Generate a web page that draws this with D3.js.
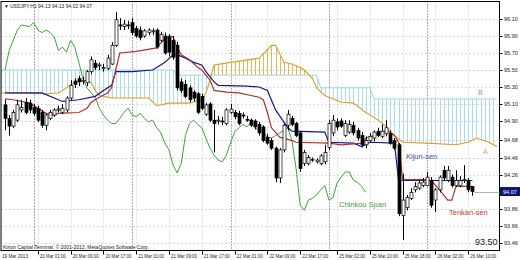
<!DOCTYPE html>
<html>
<head>
<meta charset="utf-8">
<script src="https://d3js.org/d3.v7.min.js"></script>
<style>
  body { margin: 0; background: #fff; }
  svg text { font-family: "Liberation Sans", Arial, sans-serif; }
</style>
</head>
<body>
<svg id="chart" width="520" height="260"></svg>
<script>
// USDJPY H1 bars, index 0 = 19 Mar 17:00
const opens = [95.09,94.93,94.84,94.91,95.03,95.12,95.11,95.06,95.05,95.00,94.85,94.93,94.97,95.03,95.00,95.03,95.17,95.37,95.40,95.37,
  95.35,95.48,95.58,95.55,95.52,95.52,95.57,95.79,96.03,96.01,96.03,96.06,95.99,95.97,95.90,95.94,95.95,95.97,95.85,95.90,
  95.89,95.85,95.79,95.36,95.33,95.29,95.24,95.22,95.19,94.98,95.10,94.91,94.90,94.90,94.87,95.00,95.00,94.99,94.97,94.92,
  94.91,94.90,94.86,94.83,94.71,94.67,94.58,94.23,94.56,94.85,94.93,94.87,94.76,94.40,94.40,94.44,94.42,94.40,94.42,94.59,
  94.76,94.89,94.90,94.73,94.77,94.85,94.79,94.73,94.62,94.67,94.70,94.78,94.72,94.75,94.75,94.67,94.62,93.79,93.88,93.99,
  94.09,94.11,94.14,94.14,94.20,93.97,94.09,94.32,94.20,94.24,94.14,94.14,94.20,94.20,94.13];
const highs = [95.15,94.97,95.03,95.15,95.15,95.17,95.15,95.10,95.08,95.03,94.99,95.03,95.05,95.08,95.10,95.19,95.38,95.40,95.43,95.42,
  95.50,95.66,95.62,95.59,95.57,95.68,95.83,96.18,96.11,96.09,96.08,96.11,96.02,96.01,95.98,95.99,95.99,95.99,95.95,95.94,
  95.92,95.90,95.83,95.40,95.38,95.32,95.26,95.24,95.22,95.11,95.12,95.03,94.96,94.95,95.05,95.10,95.03,95.02,95.00,94.96,
  94.93,94.92,94.89,94.85,94.75,94.70,94.60,94.58,94.87,95.03,94.96,94.89,94.78,94.56,94.50,94.47,94.46,94.51,94.62,94.91,
  94.97,94.93,94.93,94.91,94.91,94.89,94.82,94.77,94.72,94.76,94.79,94.82,94.86,94.91,94.79,94.70,94.64,94.28,94.03,94.11,
  94.18,94.20,94.23,94.30,94.24,94.11,94.26,94.37,94.37,94.27,94.32,94.25,94.38,94.23,94.13];
const lows = [94.79,94.73,94.82,94.89,95.00,94.98,94.99,94.96,94.89,94.82,94.79,94.91,94.95,95.00,94.98,95.00,95.15,95.29,95.31,95.33,
  95.31,95.45,95.50,95.50,95.48,95.50,95.56,95.77,95.97,95.97,95.98,95.91,95.88,95.85,95.88,95.91,95.91,95.75,95.83,95.68,
  95.66,95.62,95.26,95.23,95.17,95.12,95.13,94.98,95.03,94.96,94.89,94.53,94.86,94.85,94.85,94.98,94.92,94.85,94.93,94.89,
  94.83,94.80,94.73,94.65,94.62,94.56,94.18,94.17,94.53,94.79,94.84,94.71,94.30,94.37,94.38,94.42,94.40,94.38,94.39,94.56,
  94.72,94.79,94.82,94.71,94.75,94.73,94.67,94.59,94.58,94.65,94.66,94.71,94.70,94.72,94.62,94.56,93.78,93.50,93.85,93.97,
  94.06,94.09,94.12,94.13,93.88,93.83,94.06,94.20,94.18,94.12,94.12,94.12,94.17,94.06,94.02];
const closes = [94.93,94.84,95.00,95.09,95.06,95.00,95.03,94.99,94.91,94.85,94.97,95.00,95.03,95.04,95.05,95.17,95.32,95.33,95.36,95.38,
  95.48,95.62,95.53,95.56,95.53,95.64,95.79,96.09,96.02,96.04,96.03,95.94,95.90,95.88,95.96,95.97,95.96,95.77,95.92,95.70,
  95.71,95.65,95.29,95.26,95.19,95.15,95.17,95.00,95.05,95.09,94.91,94.87,94.91,94.89,95.03,95.04,94.95,94.87,94.96,94.91,
  94.85,94.83,94.76,94.67,94.64,94.58,94.23,94.56,94.85,94.98,94.86,94.73,94.34,94.53,94.47,94.45,94.44,94.49,94.53,94.87,
  94.91,94.83,94.84,94.87,94.86,94.76,94.70,94.62,94.67,94.72,94.77,94.73,94.78,94.82,94.64,94.58,93.81,93.97,94.00,94.06,
  94.13,94.17,94.18,94.24,93.91,94.09,94.24,94.23,94.32,94.14,94.20,94.20,94.21,94.09,94.07];

// Ichimoku lines as [bar index, price]
const tenkan = [[0,95.16],[2,95.15],[6,95.11],[10,94.99],[12,94.97],[13,94.99],[18,95.00],[20,95.05],[21,95.12],[23,95.18],
  [25,95.23],[26,95.29],[27,95.50],[28,95.70],[32,95.72],[37,95.76],[38,95.82],[40,95.90],[41,95.89],[42,95.76],[43,95.68],
  [45,95.62],[47,95.53],[48,95.50],[50,95.38],[51,95.26],[54,95.24],[57,95.23],[60,95.20],[62,95.18],[63,95.15],[64,95.00],
  [65,94.82],[67,94.71],[70,94.67],[71,94.65],[79,94.64],[82,94.62],[87,94.64],[88,94.70],[90,94.73],[93,94.79],[95,94.73],
  [96,94.65],[97,94.21],[102,94.21],[104,94.20],[106,94.09],[108,93.97],[109,93.97],[110,94.13],[114,94.13]];
const kijun = [[0,95.23],[9,95.23],[12,95.17],[14,95.13],[18,95.15],[22,95.19],[24,95.26],[26,95.32],[27,95.48],[31,95.48],
  [36,95.50],[37,95.53],[39,95.59],[41,95.68],[42,95.68],[44,95.64],[46,95.59],[48,95.56],[49,95.48],[51,95.36],[52,95.32],
  [59,95.31],[62,95.30],[64,95.26],[66,95.03],[69,94.82],[70,94.78],[78,94.77],[79,94.65],[85,94.64],[87,94.60],[89,94.65],
  [95,94.64],[96,94.20],[114,94.20]];
const chikou = [[0,95.50],[1,95.73],[3,95.97],[4,96.03],[6,96.01],[7,96.06],[8,95.97],[9,95.94],[10,95.97],[11,95.94],
  [12,95.89],[13,95.73],[14,95.77],[15,95.71],[16,95.85],[17,95.77],[18,95.59],[19,95.40],[20,95.29],[21,95.23],[22,95.18],
  [23,95.05],[24,94.97],[25,94.91],[26,94.87],[27,94.87],[28,94.93],[29,95.00],[30,95.05],[31,94.97],[32,94.95],[33,94.99],
  [34,94.93],[35,94.89],[36,94.91],[37,94.82],[38,94.76],[39,94.64],[40,94.56],[41,94.38],[42,94.29],[43,94.40],[44,94.73],
  [45,94.87],[46,94.91],[47,94.86],[48,94.82],[49,94.70],[50,94.58],[51,94.50],[52,94.44],[53,94.42],[54,94.50],[55,94.64],
  [56,94.77],[57,94.82],[58,94.86],[59,94.83],[60,94.89],[61,94.82],[62,94.79],[63,94.76],[64,94.71],[65,94.70],[66,94.73],
  [67,94.76],[68,94.79],[69,94.82],[70,94.67],[71,94.34],[72,93.91],[73,93.85],[74,93.97],[75,93.99],[76,94.03],[77,94.09],
  [78,94.14],[79,93.97],[80,94.00],[81,94.17],[82,94.24],[83,94.30],[84,94.30],[85,94.20],[86,94.18],[87,94.13],[88,94.06]];
const senkouA = [[-1,95.23],[10,95.22],[13,95.23],[15,95.29],[17,95.36],[20,95.38],[21,95.35],[22,95.26],[23,95.20],[26,95.17],
  [35,95.17],[37,95.08],[40,95.11],[45,95.11],[48,95.15],[49,95.23],[50,95.38],[51,95.56],[55,95.59],[62,95.64],[63,95.69],
  [65,95.79],[66,95.79],[68,95.59],[70,95.57],[72,95.53],[73,95.50],[75,95.40],[76,95.29],[78,95.20],[82,95.12],[85,95.11],
  [88,95.00],[91,94.91],[93,94.83],[95,94.73],[97,94.65],[103,94.64],[110,94.62],[113,94.65],[115,94.70],[118,94.65],[120,94.60]];
const senkouB = [[-1,95.50],[41,95.50],[42,95.44],[76,95.44],[77,95.29],[89,95.29],[90,95.16],[120,95.16]];

const priceTicks = [96.10, 95.90, 95.70, 95.50, 95.30, 95.10, 94.90, 94.68, 94.46, 94.26, 93.86, 93.66, 93.46];
const timeTicks = [[0, "19 Mar 2013"], [8, "20 Mar 01:00"], [16, "20 Mar 09:00"], [24, "20 Mar 17:00"], [32, "21 Mar 01:00"],
  [40, "21 Mar 09:00"], [48, "21 Mar 17:00"], [56, "22 Mar 01:00"], [64, "22 Mar 09:00"], [72, "22 Mar 17:00"],
  [81, "25 Mar 02:00"], [89, "25 Mar 10:00"], [97, "25 Mar 18:00"], [105, "26 Mar 02:00"], [113, "26 Mar 10:00"]];
const daySeparators = [7, 31, 55, 79, 103];
const lastPrice = 94.07;
const lowMark = 93.50;

const W = 520, H = 260;
const plot = { left: 1, right: 499.5, top: 1.5, bottom: 250.5 };
const svg = d3.select("#chart");

const x = d3.scaleLinear().domain([-0.5, 120.5]).range([3, 499]);
const y = d3.scaleLinear().domain([93.50, 96.10]).range([240, 19]);

svg.append("rect").attr("width", W).attr("height", H).attr("fill", "#fff");

const clipPlot = svg.append("defs").append("clipPath").attr("id", "plotArea").append("rect")
  .attr("x", plot.left).attr("y", plot.top).attr("width", plot.right - plot.left).attr("height", plot.bottom - plot.top);

// grid
const grid = svg.append("g").attr("stroke", "#c9c9c9").attr("stroke-width", 0.7).attr("stroke-dasharray", "2,2");
grid.selectAll(".hg").data(priceTicks).enter().append("line")
  .attr("x1", plot.left).attr("x2", plot.right)
  .attr("y1", d => Math.round(y(d)) + 0.5).attr("y2", d => Math.round(y(d)) + 0.5);
grid.selectAll(".vg").data(timeTicks.slice(1)).enter().append("line")
  .attr("x1", d => Math.round(x(d[0])) + 0.5).attr("x2", d => Math.round(x(d[0])) + 0.5)
  .attr("y1", plot.top).attr("y2", plot.bottom);

// day separators
svg.append("g").selectAll("line").data(daySeparators).enter().append("line")
  .attr("x1", d => Math.round(x(d)) + 0.5).attr("x2", d => Math.round(x(d)) + 0.5)
  .attr("y1", plot.top).attr("y2", plot.bottom)
  .attr("stroke", "#333").attr("stroke-width", 0.8).attr("stroke-dasharray", "1,2");

// cloud: hatching between Senkou A and B
const defs = svg.select("defs");
const areaBelow = pts => d3.area().x(d => x(d[0])).y0(plot.bottom).y1(d => y(d[1]))(pts);
const areaAbove = pts => d3.area().x(d => x(d[0])).y0(plot.top).y1(d => y(d[1]))(pts);
defs.append("clipPath").attr("id", "belowA").append("path").attr("d", areaBelow(senkouA));
defs.append("clipPath").attr("id", "aboveA").append("path").attr("d", areaAbove(senkouA));
defs.append("clipPath").attr("id", "belowB").append("path").attr("d", areaBelow(senkouB));
defs.append("clipPath").attr("id", "aboveB").append("path").attr("d", areaAbove(senkouB));

const cloudG = svg.append("g").attr("clip-path", "url(#plotArea)");
const hatch = (outer, inner, color) => {
  const g = cloudG.append("g").attr("clip-path", `url(#${outer})`)
    .append("g").attr("clip-path", `url(#${inner})`);
  g.selectAll("line").data(d3.range(-1, 121)).enter().append("line")
    .attr("x1", d => Math.round(x(d)) + 0.5).attr("x2", d => Math.round(x(d)) + 0.5)
    .attr("y1", plot.top).attr("y2", plot.bottom)
    .attr("stroke", color).attr("stroke-width", 1);
};
hatch("belowA", "aboveB", "#e9b654");
hatch("belowB", "aboveA", "#aadde7");

const line = d3.line().x(d => x(d[0])).y(d => y(d[1]));
const drawLine = (pts, color, w) => cloudG.append("path").datum(pts)
  .attr("d", line).attr("fill", "none").attr("stroke", color).attr("stroke-width", w);

drawLine(senkouB, "#9fd5e0", 1);
drawLine(senkouA, "#d99e2b", 1.1);
drawLine(chikou, "#3ea23e", 1);
drawLine(kijun, "#16168a", 1.2);
drawLine(tenkan, "#b8302c", 1.2);

// candles
const bars = d3.range(opens.length).map(i => ({ i, o: opens[i], h: highs[i], l: lows[i], c: closes[i] }));
const candles = svg.append("g");
candles.selectAll(".wick").data(bars).enter().append("line")
  .attr("x1", d => Math.round(x(d.i)) + 0.5).attr("x2", d => Math.round(x(d.i)) + 0.5)
  .attr("y1", d => y(d.h)).attr("y2", d => y(d.l))
  .attr("stroke", "#000").attr("stroke-width", 1);
candles.selectAll(".body").data(bars).enter().append("rect")
  .attr("x", d => Math.round(x(d.i)) - 1)
  .attr("y", d => y(Math.max(d.o, d.c)))
  .attr("width", 3)
  .attr("height", d => Math.max(1, Math.abs(y(d.o) - y(d.c))))
  .attr("fill", d => d.c > d.o ? "#fff" : "#000")
  .attr("stroke", "#000").attr("stroke-width", 0.7);

// frame
svg.append("rect").attr("x", plot.left).attr("y", plot.top)
  .attr("width", plot.right - plot.left).attr("height", plot.bottom - plot.top)
  .attr("fill", "none").attr("stroke", "#000").attr("stroke-width", 1);

// price axis
const axisG = svg.append("g");
axisG.selectAll("line").data(priceTicks).enter().append("line")
  .attr("x1", plot.right).attr("x2", plot.right + 3)
  .attr("y1", d => Math.round(y(d)) + 0.5).attr("y2", d => Math.round(y(d)) + 0.5)
  .attr("stroke", "#000");
axisG.selectAll("text").data(priceTicks).enter().append("text")
  .attr("x", 504).attr("y", d => y(d) + 2)
  .attr("font-size", 5.5).attr("fill", "#222")
  .text(d => d.toFixed(2));

// bid line + current price box
svg.append("line").attr("x1", x(opens.length - 1) + 2).attr("x2", plot.right)
  .attr("y1", Math.round(y(lastPrice)) + 0.5).attr("y2", Math.round(y(lastPrice)) + 0.5)
  .attr("stroke", "#a0a0a0").attr("stroke-width", 0.8);
svg.append("rect").attr("x", 500).attr("y", y(lastPrice) - 4.5).attr("width", 20).attr("height", 9).attr("fill", "#0b1670");
svg.append("text").attr("x", 503).attr("y", y(lastPrice) + 2).attr("font-size", 5.5).attr("fill", "#fff")
  .text(lastPrice.toFixed(2));

// time axis
const timeG = svg.append("g");
timeG.selectAll("line").data(timeTicks.slice(1)).enter().append("line")
  .attr("x1", d => Math.round(x(d[0])) + 0.5).attr("x2", d => Math.round(x(d[0])) + 0.5)
  .attr("y1", plot.bottom).attr("y2", plot.bottom + 4).attr("stroke", "#000");
timeG.selectAll("text").data(timeTicks).enter().append("text")
  .attr("x", (d, i) => i === 0 ? 2 : x(d[0]) + 2).attr("y", 257.5)
  .attr("font-size", 5.5).attr("fill", "#222")
  .attr("textLength", 26).attr("lengthAdjust", "spacingAndGlyphs")
  .text(d => d[1]);

// header & footer
svg.append("text").attr("x", 4).attr("y", 8).attr("font-size", 5).attr("fill", "#222").text("\u25BC");
svg.append("text").attr("x", 10).attr("y", 8).attr("font-size", 5.5).attr("fill", "#222")
  .attr("textLength", 82).attr("lengthAdjust", "spacingAndGlyphs")
  .text("USDJPY,H1  94.13 94.13 94.02 94.07");
svg.append("text").attr("x", 3).attr("y", 248.5).attr("font-size", 5).attr("fill", "#222")
  .attr("textLength", 146).attr("lengthAdjust", "spacingAndGlyphs")
  .text("Kirton Capital Terminal, \u00A9 2001-2013, MetaQuotes Software Corp.");

// labels
const label = (tx, ty, t, color, size) => svg.append("text")
  .attr("x", tx).attr("y", ty).attr("font-size", size).attr("fill", color).text(t);
label(478, 95, "B", "#5aaec6", 7);
label(483, 154, "A", "#e6a070", 7);
label(406, 159, "Kijun-sen", "#4a4a9e", 7.5);
label(339, 207, "Chinkou Span", "#3e9e3e", 7.5);
label(449, 215, "Tenkan-sen", "#c03a36", 7.5);
label(475, y(lowMark) + 5, lowMark.toFixed(2), "#222", 9);
</script>
</body>
</html>
